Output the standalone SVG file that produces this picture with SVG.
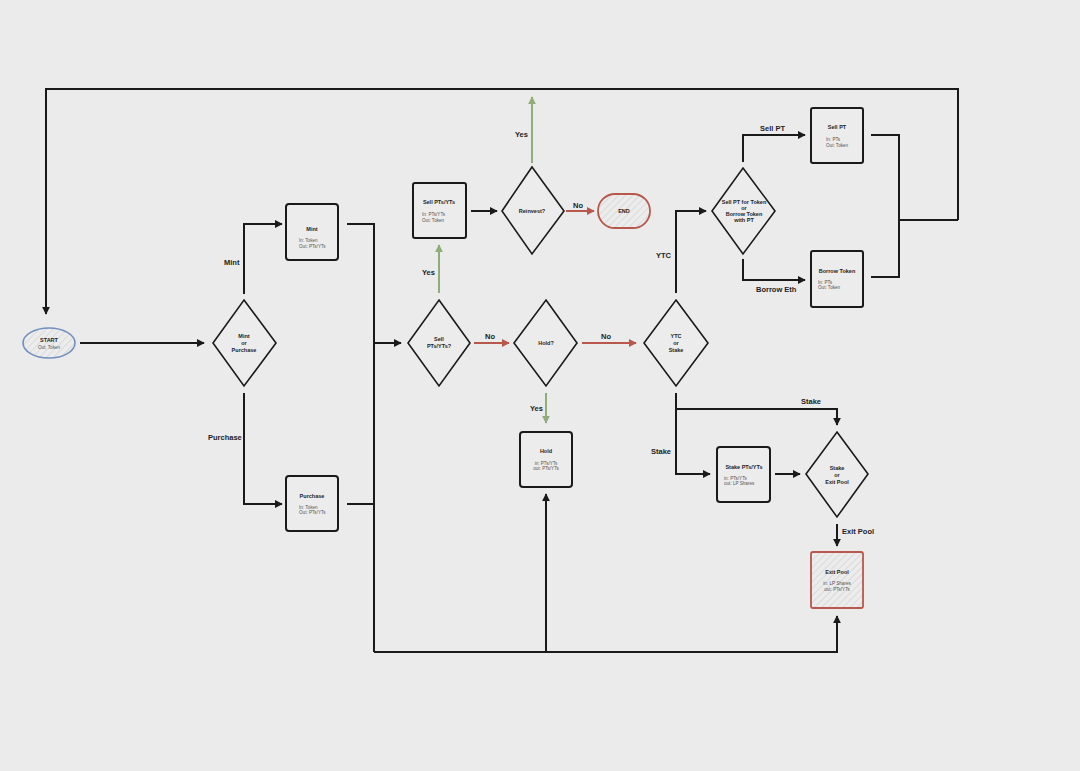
<svg xmlns="http://www.w3.org/2000/svg" width="1080" height="771" viewBox="0 0 1080 771">
<defs>
<pattern id="hatch" patternUnits="userSpaceOnUse" width="5" height="5" patternTransform="rotate(45)">
<rect width="5" height="5" fill="#ececec"/>
<line x1="0" y1="0" x2="0" y2="5" stroke="#d4d4d4" stroke-width="1.5"/>
</pattern>
<marker id="ab" viewBox="0 0 10 10" refX="9" refY="5" markerWidth="4" markerHeight="4" orient="auto"><path d="M0,0 L10,5 L0,10 Z" fill="#1a1a1a"/></marker>
<marker id="ag" viewBox="0 0 10 10" refX="9" refY="5" markerWidth="4" markerHeight="4" orient="auto"><path d="M0,0 L10,5 L0,10 Z" fill="#8fad78"/></marker>
<marker id="ar" viewBox="0 0 10 10" refX="9" refY="5" markerWidth="4" markerHeight="4" orient="auto"><path d="M0,0 L10,5 L0,10 Z" fill="#b8574b"/></marker>
</defs>
<style>
.bg{fill:#ebebeb}
.c{fill:none;stroke:#1a1a1a;stroke-width:2}
.g{fill:none;stroke:#8fad78;stroke-width:2}
.r{fill:none;stroke:#b8574b;stroke-width:2}
.box{fill:#ececec;stroke:#1a1a1a;stroke-width:2}
.dia{fill:#ececec;stroke:#1a1a1a;stroke-width:1.6}
.lbl{font-family:"Liberation Sans",Arial,sans-serif;font-size:7.5px;font-weight:bold;fill:#222}
.t{font-family:"Liberation Sans",Arial,sans-serif;font-size:5.5px;font-weight:bold;fill:#222;text-anchor:middle}
.s{font-family:"Liberation Sans",Arial,sans-serif;font-size:4.6px;fill:#555}
.sc{font-family:"Liberation Sans",Arial,sans-serif;font-size:4.6px;fill:#555;text-anchor:middle}
</style>
<rect class="bg" x="0" y="0" width="1080" height="771"/>

<g id="connectors">
<path class="c" d="M958,220 L958,89 L46,89 L46,314" marker-end="url(#ab)"/>
<path class="c" d="M80,343 L204,343" marker-end="url(#ab)"/>
<path class="c" d="M244,294 L244,224 L282,224" marker-end="url(#ab)"/>
<path class="c" d="M244,393 L244,504 L282,504" marker-end="url(#ab)"/>
<path class="c" d="M347,224 L374,224 L374,652"/>
<path class="c" d="M347,504 L374,504"/>
<path class="c" d="M374,343 L401,343" marker-end="url(#ab)"/>
<path class="c" d="M374,652 L837,652 L837,616" marker-end="url(#ab)"/>
<path class="c" d="M546,652 L546,494" marker-end="url(#ab)"/>
<path class="g" d="M439,293 L439,245" marker-end="url(#ag)"/>
<path class="c" d="M471,211 L497,211" marker-end="url(#ab)"/>
<path class="g" d="M532,163 L532,97" marker-end="url(#ag)"/>
<path class="r" d="M566,211 L594,211" marker-end="url(#ar)"/>
<path class="r" d="M474,343 L509,343" marker-end="url(#ar)"/>
<path class="r" d="M582,343 L636,343" marker-end="url(#ar)"/>
<path class="g" d="M546,393 L546,423" marker-end="url(#ag)"/>
<path class="c" d="M676,293 L676,211 L706,211" marker-end="url(#ab)"/>
<path class="c" d="M743,162 L743,135 L805,135" marker-end="url(#ab)"/>
<path class="c" d="M743,259 L743,280 L805,280" marker-end="url(#ab)"/>
<path class="c" d="M871,135 L899,135 L899,277 L871,277"/>
<path class="c" d="M899,220 L958,220"/>
<path class="c" d="M676,393 L676,474 L710,474" marker-end="url(#ab)"/>
<path class="c" d="M676,409 L837,409 L837,425" marker-end="url(#ab)"/>
<path class="c" d="M775,474 L800,474" marker-end="url(#ab)"/>
<path class="c" d="M837,524 L837,546" marker-end="url(#ab)"/>
<text class="lbl" x="224" y="265">Mint</text>
<text class="lbl" x="208" y="440">Purchase</text>
<text class="lbl" x="422" y="275">Yes</text>
<text class="lbl" x="515" y="137">Yes</text>
<text class="lbl" x="573" y="208">No</text>
<text class="lbl" x="485" y="339">No</text>
<text class="lbl" x="601" y="339">No</text>
<text class="lbl" x="530" y="411">Yes</text>
<text class="lbl" x="656" y="258">YTC</text>
<text class="lbl" x="760" y="131">Sell PT</text>
<text class="lbl" x="756" y="292">Borrow Eth</text>
<text class="lbl" x="651" y="454">Stake</text>
<text class="lbl" x="801" y="404">Stake</text>
<text class="lbl" x="842" y="534">Exit Pool</text>
</g>

<g id="start">
<ellipse cx="49" cy="343" rx="26" ry="15" fill="url(#hatch)" stroke="#6f8fbf" stroke-width="1.6"/>
<text class="t" x="49" y="342">START</text>
<text class="sc" x="49" y="349">Out: Token</text>
</g>
<g id="mint-or-purchase">
<polygon class="dia" points="244,300 276,343 244,386 213,343"/>
<text class="t" x="244" y="338">Mint</text>
<text class="t" x="244" y="345">or</text>
<text class="t" x="244" y="352">Purchase</text>
</g>
<g id="mint">
<rect class="box" x="286" y="204" width="52" height="56" rx="3"/>
<text class="t" x="312" y="231">Mint</text>
<text class="s" x="299" y="242">In: Token</text>
<text class="s" x="299" y="248">Out: PTs/YTs</text>
</g>
<g id="purchase">
<rect class="box" x="286" y="476" width="52" height="55" rx="3"/>
<text class="t" x="312" y="498">Purchase</text>
<text class="s" x="299" y="509">In: Token</text>
<text class="s" x="299" y="514">Out: PTs/YTs</text>
</g>
<g id="sell-decision">
<polygon class="dia" points="439,300 470,343 439,386 408,343"/>
<text class="t" x="439" y="341">Sell</text>
<text class="t" x="439" y="348">PTs/YTs?</text>
</g>
<g id="sell-pts">
<rect class="box" x="413" y="183" width="53" height="55" rx="2"/>
<text class="t" x="439" y="204">Sell PTs/YTs</text>
<text class="s" x="422" y="216">In: PTs/YTs</text>
<text class="s" x="422" y="222">Out: Token</text>
</g>
<g id="reinvest">
<polygon class="dia" points="532,167 564,211 532,254 502,211"/>
<text class="t" x="532" y="213">Reinvest?</text>
</g>
<g id="end">
<rect x="598" y="194" width="52" height="34" rx="17" fill="url(#hatch)" stroke="#b8574b" stroke-width="1.8"/>
<text class="t" x="624" y="213">END</text>
</g>
<g id="hold-decision">
<polygon class="dia" points="546,300 577,343 546,386 514,343"/>
<text class="t" x="546" y="345">Hold?</text>
</g>
<g id="hold">
<rect class="box" x="520" y="432" width="52" height="55" rx="3"/>
<text class="t" x="546" y="453">Hold</text>
<text class="sc" x="546" y="465">in: PTs/YTs</text>
<text class="sc" x="546" y="470">out: PTs/YTs</text>
</g>
<g id="ytc-or-stake">
<polygon class="dia" points="676,300 708,343 676,386 644,343"/>
<text class="t" x="676" y="338">YTC</text>
<text class="t" x="676" y="345">or</text>
<text class="t" x="676" y="352">Stake</text>
</g>
<g id="sell-or-borrow">
<polygon class="dia" points="743,168 775,211 743,254 712,211"/>
<text class="t" x="744" y="204">Sell PT for Token</text>
<text class="t" x="744" y="210">or</text>
<text class="t" x="744" y="216">Borrow Token</text>
<text class="t" x="744" y="222">with PT</text>
</g>
<g id="sell-pt">
<rect class="box" x="811" y="108" width="52" height="55" rx="2"/>
<text class="t" x="837" y="129">Sell PT</text>
<text class="s" x="826" y="141">In: PTs</text>
<text class="s" x="826" y="147">Out: Token</text>
</g>
<g id="borrow-token">
<rect class="box" x="811" y="251" width="52" height="56" rx="2"/>
<text class="t" x="837" y="273">Borrow Token</text>
<text class="s" x="818" y="284">In: PTs</text>
<text class="s" x="818" y="289">Out: Token</text>
</g>
<g id="stake-pts">
<rect class="box" x="717" y="447" width="53" height="55" rx="3"/>
<text class="t" x="744" y="469">Stake PTs/YTs</text>
<text class="s" x="724" y="480">in: PTs/YTs</text>
<text class="s" x="724" y="485">out: LP Shares</text>
</g>
<g id="stake-or-exit">
<polygon class="dia" points="837,432 868,474 837,517 806,474"/>
<text class="t" x="837" y="470">Stake</text>
<text class="t" x="837" y="477">or</text>
<text class="t" x="837" y="484">Exit Pool</text>
</g>
<g id="exit-pool">
<rect x="811" y="552" width="52" height="56" rx="2" fill="url(#hatch)" stroke="#b8574b" stroke-width="1.8"/>
<text class="t" x="837" y="574">Exit Pool</text>
<text class="sc" x="837" y="585">in: LP Shares</text>
<text class="sc" x="837" y="591">out: PTs/YTs</text>
</g>
</svg>
